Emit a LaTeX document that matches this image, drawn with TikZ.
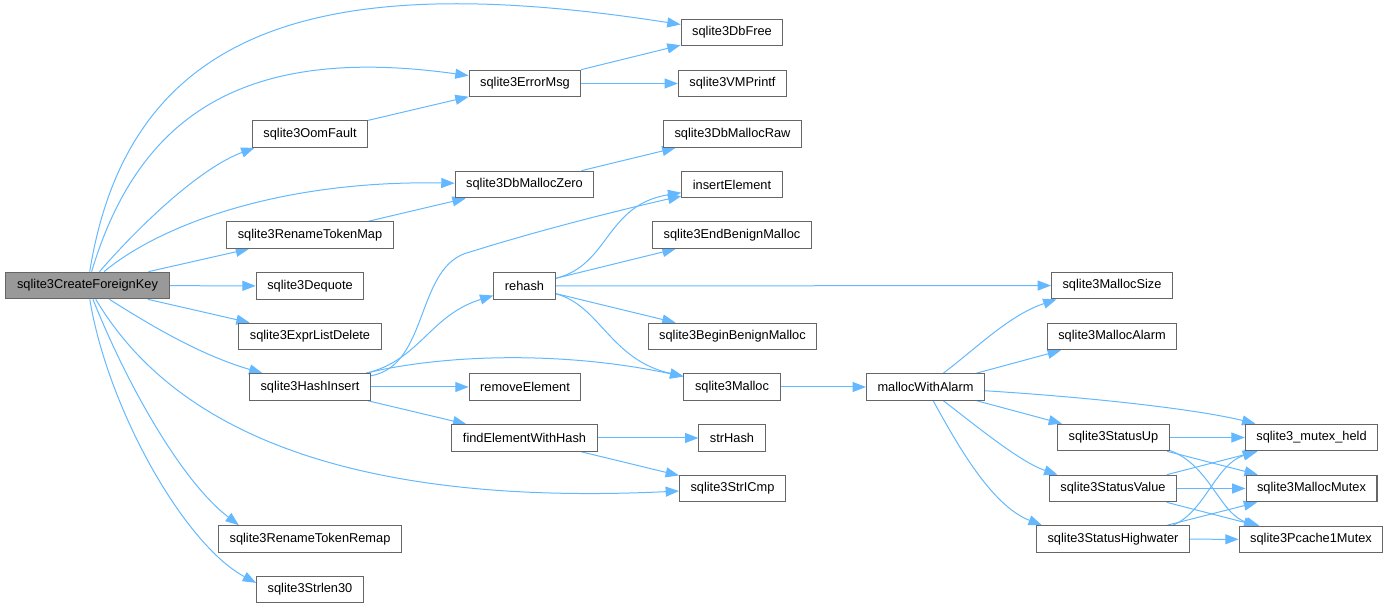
\documentclass[tikz,border=0pt]{standalone}
\usepackage{fontspec}
\setmainfont{Liberation Sans}
\usetikzlibrary{arrows.meta}
\pgfdeclarelayer{bg}
\pgfsetlayers{bg,main}
\definecolor{edgeblue}{HTML}{63B8FF}
\definecolor{boxline}{HTML}{666666}
\definecolor{rootgray}{HTML}{999999}
\tikzset{
    every node/.style={rectangle, draw=boxline, fill=white, line width=.75pt, inner xsep=8.3pt, inner ysep=0pt, minimum height=20pt, font=\fontsize{9.6}{11}\selectfont}
}
\tikzset{root/.style={fill=rootgray}}
\tikzset{call/.style={color=edgeblue, line width=.75pt, -{Triangle[length=10pt, width=7.5pt]}}}

\begin{document}
\begin{tikzpicture}[x=0.75pt, y=-0.75pt]
  \useasboundingbox (0,0) rectangle (1390,609);

  \node[root] (cfk) at (87.5,285.5) {sqlite3CreateForeignKey};

  \node (oom) at (310,134) {sqlite3OomFault};
  \node (rtmap) at (310,235) {sqlite3RenameTokenMap};
  \node (dequote) at (310,286) {sqlite3Dequote};
  \node (exprdel) at (310,336.5) {sqlite3ExprListDelete};
  \node (hashins) at (310,387) {sqlite3HashInsert};
  \node (rtremap) at (310,539) {sqlite3RenameTokenRemap};
  \node (strlen) at (310,589.5) {sqlite3Strlen30};

  \node (errmsg) at (525,83.5) {sqlite3ErrorMsg};
  \node (dmzero) at (524.5,184.5) {sqlite3DbMallocZero};
  \node (rehash) at (524.5,286) {rehash};
  \node (remel) at (525,387) {removeElement};
  \node (findel) at (524.5,438) {findElementWithHash};

  \node (dbfree) at (732,32.5) {sqlite3DbFree};
  \node (vmprintf) at (732.5,83.5) {sqlite3VMPrintf};
  \node (dmraw) at (732.5,134) {sqlite3DbMallocRaw};
  \node (insel) at (732,184.5) {insertElement};
  \node (endbm) at (732,235) {sqlite3EndBenignMalloc};
  \node (beginbm) at (732.5,336.5) {sqlite3BeginBenignMalloc};
  \node (malloc) at (732,387) {sqlite3Malloc};
  \node (strhash) at (732,438) {strHash};
  \node (stricmp) at (732.5,488.5) {sqlite3StrICmp};

  \node (mwa) at (925.5,387) {mallocWithAlarm};

  \node (msize) at (1112,285.5) {sqlite3MallocSize};
  \node (malarm) at (1112,336.5) {sqlite3MallocAlarm};
  \node (sup) at (1113.5,437.5) {sqlite3StatusUp};
  \node (sval) at (1113,488.5) {sqlite3StatusValue};
  \node (shigh) at (1113,539) {sqlite3StatusHighwater};

  \node (mheld) at (1311.5,437.5) {sqlite3\_mutex\_held};
  \node (mmutex) at (1311.5,488.5) {sqlite3MallocMutex};
  \node (pcache) at (1311,539.5) {sqlite3Pcache1Mutex};

  \begin{pgfonlayer}{bg}
	  \draw[call] (cfk) .. controls (130,20) and (330,-30) .. (dbfree);
	  \draw[call] (cfk) .. controls (140,110) and (250,45) .. (errmsg);
	  \draw[call] (cfk) .. controls (140,225) and (200,168) .. (oom.194);
	  \draw[call] (cfk) .. controls (160,225) and (280,180) .. (dmzero);
	  \draw[call] (cfk) edge (rtmap); \draw[call] (cfk) edge (dequote);
	  \draw[call] (cfk) edge (exprdel);
	  \draw[call] (cfk) .. controls (150,325) and (200,355) .. (hashins);
	  \draw[call] (cfk) .. controls (150,390) and (280,510) .. (stricmp);
	  \draw[call] (cfk) .. controls (125,380) and (180,480) .. (rtremap.169);
	  \draw[call] (cfk) .. controls (108,410) and (185,545) .. (strlen.173);

	  \draw[call] (oom) edge (errmsg);
	  \draw[call] (errmsg) edge (dbfree); \draw[call] (errmsg) edge (vmprintf);
	  \draw[call] (rtmap) edge (dmzero); \draw[call] (dmzero) edge (dmraw);

	  \draw[call] (hashins) .. controls (430,365) and (415,265) .. (470,252)
	    .. controls (540,230) and (620,210) .. (insel);
	  \draw[call] (hashins) .. controls (420,360) and (430,315) .. (rehash);
	  \draw[call] (hashins) .. controls (440,355) and (560,350) .. (malloc);
	  \draw[call] (hashins) edge (remel); \draw[call] (hashins) edge (findel);

	  \draw[call] (rehash) .. controls (610,265) and (605,205) .. (insel);
	  \draw[call] (rehash) edge (endbm); \draw[call] (rehash) edge (msize);
	  \draw[call] (rehash) edge (beginbm);
	  \draw[call] (rehash) .. controls (600,305) and (610,360) .. (malloc);

	  \draw[call] (findel) edge (strhash); \draw[call] (findel) edge (stricmp);
	  \draw[call] (malloc) edge (mwa);

	  \draw[call] (mwa) .. controls (980,345) and (1010,315) .. (msize.194);
	  \draw[call] (mwa) edge (malarm);
	  \draw[call] (mwa) .. controls (1100,398) and (1200,410) .. (mheld);
	  \draw[call] (mwa) edge (sup);
	  \draw[call] (mwa) .. controls (975,425) and (1020,462) .. (sval.166);
	  \draw[call] (mwa) .. controls (955,440) and (990,505) .. (shigh.169);

	  \draw[call] (sup) edge (mheld); \draw[call] (sup) edge (mmutex);
	  \draw[call] (sup.-13) .. controls (1210,465) and (1220,515) .. (pcache.165);
	  \draw[call] (sval) edge (mheld); \draw[call] (sval) edge (mmutex);
	  \draw[call] (sval) edge (pcache);
	  \draw[call] (shigh.13) .. controls (1205,512) and (1215,465) .. (mheld.194);
	  \draw[call] (shigh) edge (mmutex); \draw[call] (shigh) edge (pcache);
  \end{pgfonlayer}

\end{tikzpicture}
\end{document}
